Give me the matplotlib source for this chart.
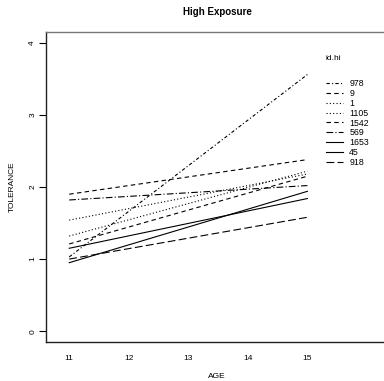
import matplotlib
matplotlib.use("Agg")
import matplotlib.pyplot as plt

plt.rcParams['font.family'] = ['Liberation Sans', 'DejaVu Sans']

ids = ["978", "9", "1", "1105", "1542", "569", "1653", "45", "918"]
age_start = [11, 11, 11, 11, 11, 11, 11, 11, 11]
age_end = [15, 15, 15, 15, 15, 15, 15, 15, 15]
tol_start = [1.03, 1.90, 1.32, 1.54, 1.21, 1.82, 0.95, 1.15, 1.00]
tol_end = [3.56, 2.38, 2.22, 2.18, 2.15, 2.02, 1.94, 1.84, 1.58]
styles = [(0, (3, 2, 1, 2)), (0, (4, 3)), (0, (1, 2)), (0, (1, 2)), (0, (4, 3)),
          (0, (6, 2, 1, 2)), '-', '-', (0, (7, 3))]

xticks = [11, 12, 13, 14, 15]
yticks = [0, 1, 2, 3, 4]

W, H = 384, 381
fig = plt.figure(figsize=(W / 100, H / 100), dpi=100)
left, right, top, bottom = 46, 386, 32, 342
ax = fig.add_axes([left / W, (H - bottom) / H, (right - left) / W, (bottom - top) / H])

for i in range(len(ids)):
    ax.plot([age_start[i], age_end[i]], [tol_start[i], tol_end[i]],
            color='black', linewidth=0.8, linestyle=styles[i], label=ids[i])

ax.set_xlim(10.61, 16.32)
ax.set_ylim(-0.15, 4.15)
ax.set_xticks(xticks)
ax.set_yticks(yticks)
ax.tick_params(axis='x', length=0, pad=9, labelsize=6)
ax.tick_params(axis='y', length=5, width=0.8, pad=2, labelsize=6)
for lab in ax.get_yticklabels():
    lab.set_rotation(90)
    lab.set_va('center')
ax.spines['right'].set_visible(False)
for s in ['left', 'bottom']:
    ax.spines[s].set_linewidth(1.0)
    ax.spines[s].set_color('#222222')
ax.spines['top'].set_linewidth(1.0)
ax.spines['top'].set_color('#777777')

fig.text(217 / W, 1 - 376 / H, 'AGE', fontsize=6, ha='center', va='center')
fig.text(12 / W, 1 - 187 / H, 'TOLERANCE', fontsize=6, ha='center', va='center', rotation=90)
fig.text(217 / W, 1 - 12 / H, 'High Exposure', fontsize=7, fontweight='bold',
         ha='center', va='center')
fig.text(326 / W, 1 - 59 / H, 'id.hi', fontsize=6, ha='left', va='center')

leg = ax.legend(loc='upper left',
                bbox_to_anchor=((326 - left) / (right - left), 1 - (79 - top) / (bottom - top)),
                frameon=False, fontsize=6.3, handlelength=1.9,
                handletextpad=0.75, labelspacing=0.1, borderaxespad=0, borderpad=0)

fig.savefig('out.png', dpi=100)
